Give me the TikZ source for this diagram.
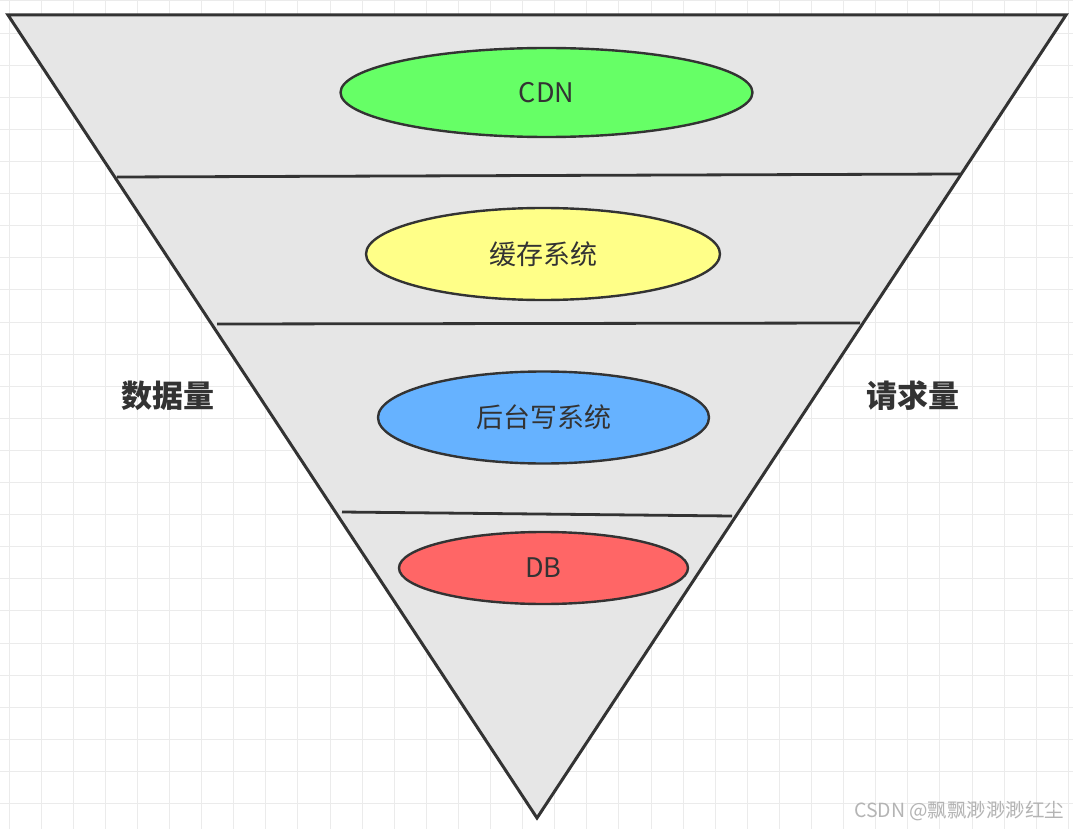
\documentclass[tikz,border=0pt]{standalone}
\usepackage{fontspec}
\setmainfont{Noto Sans CJK SC}
\newfontfamily\cjk{Noto Sans CJK SC}
\usetikzlibrary{shapes.geometric}
\definecolor{gridc}{HTML}{EBEBEB}
\definecolor{trifill}{HTML}{E6E6E6}
\definecolor{edgec}{HTML}{333333}
\definecolor{cdnc}{HTML}{66FF66}
\definecolor{cachec}{HTML}{FFFF88}
\definecolor{backc}{HTML}{66B2FF}
\definecolor{dbc}{HTML}{FF6666}
\definecolor{txtc}{HTML}{333333}
\definecolor{wmc}{HTML}{B4B4B4}
\begin{document}
\begin{tikzpicture}[x=1pt,y=-1pt,
  gridline/.style={draw=gridc, line width=1pt},
  layer/.style={ellipse, draw=edgec, line width=2.4pt, inner sep=0pt, text=txtc, font=\cjk\fontsize{27}{30}\selectfont},
  sidelabel/.style={text=txtc, font=\cjk\bfseries\fontsize{31}{34}\selectfont},
  divider/.style={draw=edgec, line width=2.8pt}
]
\useasboundingbox (0,0) rectangle (1073,829);
\fill[white] (0,0) rectangle (1073,829);
\foreach \k in {0,...,33} {
  \draw[gridline] ({9+32.1*\k},0) -- ({9+32.1*\k},829);
}
\foreach \k in {0,...,26} {
  \draw[gridline] (0,{1+32.1*\k}) -- (1073,{1+32.1*\k});
}
% triangle
\coordinate (tl) at (8,15);
\coordinate (tr) at (1066,15);
\coordinate (bt) at (537,818);
\draw[fill=trifill, draw=edgec, line width=3pt, line join=miter] (tl) -- (tr) -- (bt) -- cycle;
% dividers
\coordinate (d1l) at (117,177); \coordinate (d1r) at (960,174);
\coordinate (d2l) at (217,324); \coordinate (d2r) at (860,323);
\coordinate (d3l) at (342,512); \coordinate (d3r) at (732,516);
\draw[divider] (d1l) -- (d1r);
\draw[divider] (d2l) -- (d2r);
\draw[divider] (d3l) -- (d3r);
% ellipses
\node[layer, fill=cdnc, minimum width=412pt, minimum height=89pt] (cdn) at (546.5,92.5) {CDN};
\node[layer, fill=cachec, minimum width=354pt, minimum height=92pt] (cache) at (543,254) {缓存系统};
\node[layer, fill=backc, minimum width=331pt, minimum height=92pt] (back) at (543.5,417.5) {后台写系统};
\node[layer, fill=dbc, minimum width=289pt, minimum height=72pt] (db) at (543.5,568) {DB};
% side labels
\node[sidelabel] (data) at (168,396) {数据量};
\node[sidelabel] (req) at (913,396) {请求量};
% watermark
\node[text=wmc, font=\cjk\fontsize{19.5}{22}\selectfont, anchor=east] (wm) at (1068,811) {CSDN @飘飘渺渺渺红尘};
\end{tikzpicture}
\end{document}
